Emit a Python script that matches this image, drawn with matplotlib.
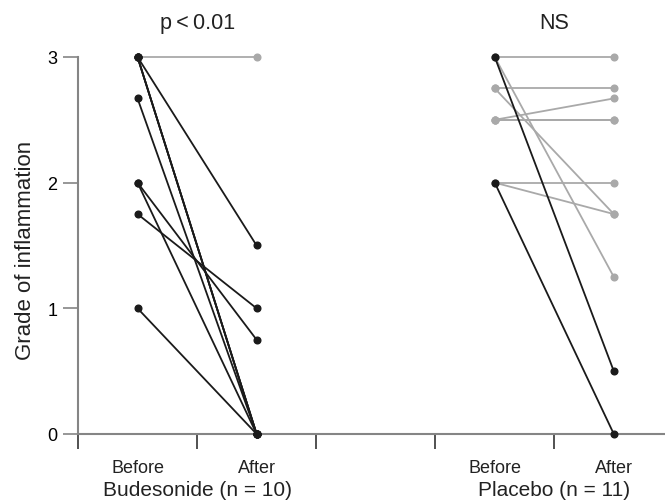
import matplotlib.pyplot as plt

plt.rcParams['font.family'] = ['Liberation Sans', 'DejaVu Sans']

# 数据: 每位患者治疗前后的炎症分级 (1 = 黑色线, 0 = 灰色线)
bud_before = [3, 3, 3, 3, 3, 2.67, 2, 2, 1.75, 1]
bud_after = [3, 1.5, 0, 0, 0, 0, 0.75, 0, 1, 0]
bud_dark = [0, 1, 1, 1, 1, 1, 1, 1, 1, 1]

pla_before = [3, 3, 3, 2.75, 2.75, 2.5, 2.5, 2.5, 2, 2, 2]
pla_after = [3, 0.5, 1.25, 2.75, 1.75, 2.67, 2.5, 2.5, 2, 1.75, 0]
pla_dark = [0, 1, 0, 0, 0, 0, 0, 0, 0, 0, 1]

groups = ['Budesonide (n = 10)', 'Placebo (n = 11)']
group_titles = ['p\u2009<\u20090.01', 'NS']
x_pos = [(0.5, 1.5), (3.5, 4.5)]
tick_labels = ['Before', 'After']

dark = '#1a1a1a'
light = '#a9a9a9'
axis_col = '#858585'

fig = plt.figure(figsize=(6.65, 5.02), dpi=100)
ax = fig.add_axes([0.1173, 0.1335, 0.8827, 0.751])

data = [(bud_before, bud_after, bud_dark), (pla_before, pla_after, pla_dark)]
for (xb, xa), (before, after, flags) in zip(x_pos, data):
    # 先画灰色, 再画黑色
    for want in (0, 1):
        for b, a, f in zip(before, after, flags):
            if f != want:
                continue
            col = dark if f else light
            ax.plot([xb, xa], [b, a], color=col, lw=1.3, marker='o', ms=4.8,
                    mec=col, mfc=col, clip_on=False, zorder=3 + f)

ax.set_xlim(0, 4.93)
ax.set_ylim(0, 3)
ax.set_yticks([0, 1, 2, 3])
ax.set_xticks([0, 1, 2, 3, 4])
ax.set_xticklabels([])
ax.tick_params(axis='y', direction='out', length=11, width=1.2, color=axis_col,
               labelsize=13, pad=4)
ax.tick_params(axis='x', direction='out', length=11, width=1.2, color='#333333')
for s in ['top', 'right']:
    ax.spines[s].set_visible(False)
for s in ['left', 'bottom']:
    ax.spines[s].set_color(axis_col)
    ax.spines[s].set_linewidth(1.5)

ax.set_ylabel('Grade of inflammation', fontsize=16, color='#222222')
ax.yaxis.set_label_coords(-0.072, 0.49)

trans = ax.get_xaxis_transform()
for (xb, xa), name, title in zip(x_pos, groups, group_titles):
    for xx, lab in zip((xb, xa), tick_labels):
        ax.text(xx, -0.088, lab, transform=trans, ha='center', va='center',
                fontsize=13, color='#222222')
    mid = (xb + xa) / 2
    ax.text(mid, -0.148, name, transform=trans, ha='center', va='center',
            fontsize=15, color='#222222')
    ax.text(mid, 1.092, title, transform=trans, ha='center', va='center',
            fontsize=15.5, color='#222222')

plt.savefig('out.png', dpi=100)
